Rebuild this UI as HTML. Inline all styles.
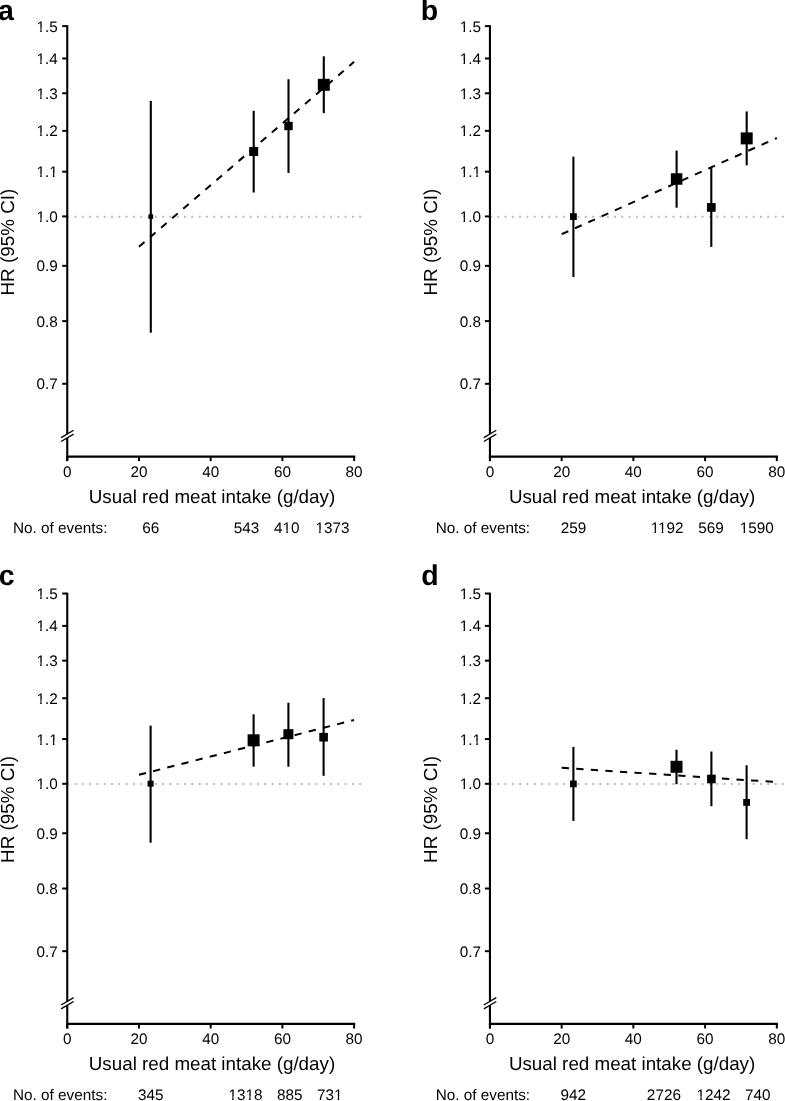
<!DOCTYPE html><html><head><meta charset="utf-8"><style>html,body{margin:0;padding:0;background:#fff;overflow:hidden}svg{display:block;will-change:transform}</style></head><body>
<svg width="785" height="1101" viewBox="0 0 785 1101" text-rendering="geometricPrecision">
<rect width="785" height="1101" fill="#fff"/>
<g transform="translate(0,0)">
<text x="-2" y="20.1" font-size="28.5" font-weight="bold" font-family="Liberation Sans">a</text>
<line x1="67.2" y1="216.7" x2="361.5" y2="216.7" stroke="#bcbcbc" stroke-width="2" stroke-dasharray="2 5.3"/>
<line x1="67.25" y1="25.3" x2="67.25" y2="434" stroke="#000" stroke-width="2.1"/>
<line x1="67.25" y1="437.9" x2="67.25" y2="461.1" stroke="#000" stroke-width="2.1"/>
<line x1="61.1" y1="437.6" x2="73.6" y2="430.2" stroke="#000" stroke-width="1.3"/>
<line x1="61.1" y1="441.5" x2="73.6" y2="434.1" stroke="#000" stroke-width="1.3"/>
<line x1="62.2" y1="383.79" x2="67.25" y2="383.79" stroke="#000" stroke-width="2"/>
<text id="a-y-0.7" x="57.7" y="389.39" font-size="15.3" text-anchor="end" font-family="Liberation Sans">0.7</text>
<line x1="62.2" y1="321.12" x2="67.25" y2="321.12" stroke="#000" stroke-width="2"/>
<text id="a-y-0.8" x="57.7" y="326.72" font-size="15.3" text-anchor="end" font-family="Liberation Sans">0.8</text>
<line x1="62.2" y1="265.85" x2="67.25" y2="265.85" stroke="#000" stroke-width="2"/>
<text id="a-y-0.9" x="57.7" y="271.45" font-size="15.3" text-anchor="end" font-family="Liberation Sans">0.9</text>
<line x1="62.2" y1="216.40" x2="67.25" y2="216.40" stroke="#000" stroke-width="2"/>
<text id="a-y-1.0" x="57.7" y="222.00" font-size="15.3" text-anchor="end" font-family="Liberation Sans">1.0</text>
<line x1="62.2" y1="171.67" x2="67.25" y2="171.67" stroke="#000" stroke-width="2"/>
<text id="a-y-1.1" x="57.7" y="177.27" font-size="15.3" text-anchor="end" font-family="Liberation Sans">1.1</text>
<line x1="62.2" y1="130.84" x2="67.25" y2="130.84" stroke="#000" stroke-width="2"/>
<text id="a-y-1.2" x="57.7" y="136.44" font-size="15.3" text-anchor="end" font-family="Liberation Sans">1.2</text>
<line x1="62.2" y1="93.27" x2="67.25" y2="93.27" stroke="#000" stroke-width="2"/>
<text id="a-y-1.3" x="57.7" y="98.87" font-size="15.3" text-anchor="end" font-family="Liberation Sans">1.3</text>
<line x1="62.2" y1="58.49" x2="67.25" y2="58.49" stroke="#000" stroke-width="2"/>
<text id="a-y-1.4" x="57.7" y="64.09" font-size="15.3" text-anchor="end" font-family="Liberation Sans">1.4</text>
<line x1="62.2" y1="26.12" x2="67.25" y2="26.12" stroke="#000" stroke-width="2"/>
<text id="a-y-1.5" x="57.7" y="31.72" font-size="15.3" text-anchor="end" font-family="Liberation Sans">1.5</text>
<line x1="66.2" y1="456.55" x2="355.2" y2="456.55" stroke="#000" stroke-width="2.3"/>
<line x1="67.25" y1="456.5" x2="67.25" y2="461.1" stroke="#000" stroke-width="2"/>
<text x="67.25" y="477" font-size="15.3" text-anchor="middle" font-family="Liberation Sans">0</text>
<line x1="138.96" y1="456.5" x2="138.96" y2="461.1" stroke="#000" stroke-width="2"/>
<text x="138.96" y="477" font-size="15.3" text-anchor="middle" font-family="Liberation Sans">20</text>
<line x1="210.67" y1="456.5" x2="210.67" y2="461.1" stroke="#000" stroke-width="2"/>
<text x="210.67" y="477" font-size="15.3" text-anchor="middle" font-family="Liberation Sans">40</text>
<line x1="282.39" y1="456.5" x2="282.39" y2="461.1" stroke="#000" stroke-width="2"/>
<text x="282.39" y="477" font-size="15.3" text-anchor="middle" font-family="Liberation Sans">60</text>
<line x1="354.10" y1="456.5" x2="354.10" y2="461.1" stroke="#000" stroke-width="2"/>
<text x="354.10" y="477" font-size="15.3" text-anchor="middle" font-family="Liberation Sans">80</text>
<text x="88.8" y="502.8" font-size="18.8" font-family="Liberation Sans">Usual red meat intake (g/day)</text>
<text transform="translate(13.9,242.1) rotate(-90)" x="0" y="0" font-size="18.85" text-anchor="middle" font-family="Liberation Sans">HR (95% CI)</text>
<text x="13" y="533.4" font-size="15.3" font-family="Liberation Sans">No. of events:</text>
<text id="a-e-66" x="150.65" y="533.4" font-size="15.3" text-anchor="middle" font-family="Liberation Sans">66</text>
<text id="a-e-543" x="246.6" y="533.4" font-size="15.3" text-anchor="middle" font-family="Liberation Sans">543</text>
<text id="a-e-410" x="286.85" y="533.4" font-size="15.3" text-anchor="middle" font-family="Liberation Sans">410</text>
<text id="a-e-1373" x="332.4" y="533.4" font-size="15.3" text-anchor="middle" font-family="Liberation Sans">1373</text>
<line x1="138.96" y1="246.8" x2="354.1" y2="61.8" stroke="#000" stroke-width="2.0" stroke-dasharray="7.3 7.3"/>
<line x1="150.8" y1="100.9" x2="150.8" y2="332.7" stroke="#000" stroke-width="2.1"/>
<rect x="148.50" y="214.30" width="4.6" height="4.6" fill="#000"/>
<line x1="253.7" y1="110.8" x2="253.7" y2="192.5" stroke="#000" stroke-width="2.1"/>
<rect x="249.20" y="147.00" width="9.0" height="9.0" fill="#000"/>
<line x1="288.5" y1="79.2" x2="288.5" y2="172.9" stroke="#000" stroke-width="2.1"/>
<rect x="284.30" y="121.80" width="8.4" height="8.4" fill="#000"/>
<line x1="323.8" y1="56.3" x2="323.8" y2="113.1" stroke="#000" stroke-width="2.1"/>
<rect x="317.80" y="78.80" width="12.0" height="12.0" fill="#000"/>
<rect x="36.89" y="218.18" width="3.29" height="5.33" fill="#fff"/>
<rect x="41.71" y="218.18" width="3.06" height="5.33" fill="#fff"/>
<rect x="36.89" y="173.45" width="3.29" height="5.33" fill="#fff"/>
<rect x="41.71" y="173.45" width="3.06" height="5.33" fill="#fff"/>
<rect x="49.64" y="173.45" width="3.29" height="5.33" fill="#fff"/>
<rect x="54.46" y="173.45" width="3.06" height="5.33" fill="#fff"/>
<rect x="36.89" y="132.61" width="3.29" height="5.33" fill="#fff"/>
<rect x="41.71" y="132.61" width="3.06" height="5.33" fill="#fff"/>
<rect x="36.89" y="95.05" width="3.29" height="5.33" fill="#fff"/>
<rect x="41.71" y="95.05" width="3.06" height="5.33" fill="#fff"/>
<rect x="36.89" y="60.27" width="3.29" height="5.33" fill="#fff"/>
<rect x="41.71" y="60.27" width="3.06" height="5.33" fill="#fff"/>
<rect x="36.89" y="27.89" width="3.29" height="5.33" fill="#fff"/>
<rect x="41.71" y="27.89" width="3.06" height="5.33" fill="#fff"/>
<rect x="283.04" y="529.57" width="3.29" height="5.33" fill="#fff"/>
<rect x="287.86" y="529.57" width="3.06" height="5.33" fill="#fff"/>
<rect x="315.84" y="529.57" width="3.29" height="5.33" fill="#fff"/>
<rect x="320.66" y="529.57" width="3.06" height="5.33" fill="#fff"/>
</g>
<g transform="translate(422.7,0)">
<text x="-2" y="20.1" font-size="28.5" font-weight="bold" font-family="Liberation Sans">b</text>
<line x1="67.2" y1="216.7" x2="361.5" y2="216.7" stroke="#bcbcbc" stroke-width="2" stroke-dasharray="2 5.3"/>
<line x1="67.25" y1="25.3" x2="67.25" y2="434" stroke="#000" stroke-width="2.1"/>
<line x1="67.25" y1="437.9" x2="67.25" y2="461.1" stroke="#000" stroke-width="2.1"/>
<line x1="61.1" y1="437.6" x2="73.6" y2="430.2" stroke="#000" stroke-width="1.3"/>
<line x1="61.1" y1="441.5" x2="73.6" y2="434.1" stroke="#000" stroke-width="1.3"/>
<line x1="62.2" y1="383.79" x2="67.25" y2="383.79" stroke="#000" stroke-width="2"/>
<text id="b-y-0.7" x="58.3" y="389.39" font-size="15.3" text-anchor="end" font-family="Liberation Sans">0.7</text>
<line x1="62.2" y1="321.12" x2="67.25" y2="321.12" stroke="#000" stroke-width="2"/>
<text id="b-y-0.8" x="58.3" y="326.72" font-size="15.3" text-anchor="end" font-family="Liberation Sans">0.8</text>
<line x1="62.2" y1="265.85" x2="67.25" y2="265.85" stroke="#000" stroke-width="2"/>
<text id="b-y-0.9" x="58.3" y="271.45" font-size="15.3" text-anchor="end" font-family="Liberation Sans">0.9</text>
<line x1="62.2" y1="216.40" x2="67.25" y2="216.40" stroke="#000" stroke-width="2"/>
<text id="b-y-1.0" x="58.3" y="222.00" font-size="15.3" text-anchor="end" font-family="Liberation Sans">1.0</text>
<line x1="62.2" y1="171.67" x2="67.25" y2="171.67" stroke="#000" stroke-width="2"/>
<text id="b-y-1.1" x="58.3" y="177.27" font-size="15.3" text-anchor="end" font-family="Liberation Sans">1.1</text>
<line x1="62.2" y1="130.84" x2="67.25" y2="130.84" stroke="#000" stroke-width="2"/>
<text id="b-y-1.2" x="58.3" y="136.44" font-size="15.3" text-anchor="end" font-family="Liberation Sans">1.2</text>
<line x1="62.2" y1="93.27" x2="67.25" y2="93.27" stroke="#000" stroke-width="2"/>
<text id="b-y-1.3" x="58.3" y="98.87" font-size="15.3" text-anchor="end" font-family="Liberation Sans">1.3</text>
<line x1="62.2" y1="58.49" x2="67.25" y2="58.49" stroke="#000" stroke-width="2"/>
<text id="b-y-1.4" x="58.3" y="64.09" font-size="15.3" text-anchor="end" font-family="Liberation Sans">1.4</text>
<line x1="62.2" y1="26.12" x2="67.25" y2="26.12" stroke="#000" stroke-width="2"/>
<text id="b-y-1.5" x="58.3" y="31.72" font-size="15.3" text-anchor="end" font-family="Liberation Sans">1.5</text>
<line x1="66.2" y1="456.55" x2="355.2" y2="456.55" stroke="#000" stroke-width="2.3"/>
<line x1="67.25" y1="456.5" x2="67.25" y2="461.1" stroke="#000" stroke-width="2"/>
<text x="67.25" y="477" font-size="15.3" text-anchor="middle" font-family="Liberation Sans">0</text>
<line x1="138.96" y1="456.5" x2="138.96" y2="461.1" stroke="#000" stroke-width="2"/>
<text x="138.96" y="477" font-size="15.3" text-anchor="middle" font-family="Liberation Sans">20</text>
<line x1="210.67" y1="456.5" x2="210.67" y2="461.1" stroke="#000" stroke-width="2"/>
<text x="210.67" y="477" font-size="15.3" text-anchor="middle" font-family="Liberation Sans">40</text>
<line x1="282.39" y1="456.5" x2="282.39" y2="461.1" stroke="#000" stroke-width="2"/>
<text x="282.39" y="477" font-size="15.3" text-anchor="middle" font-family="Liberation Sans">60</text>
<line x1="354.10" y1="456.5" x2="354.10" y2="461.1" stroke="#000" stroke-width="2"/>
<text x="354.10" y="477" font-size="15.3" text-anchor="middle" font-family="Liberation Sans">80</text>
<text x="86.2" y="502.8" font-size="18.8" font-family="Liberation Sans">Usual red meat intake (g/day)</text>
<text transform="translate(13.9,242.1) rotate(-90)" x="0" y="0" font-size="18.85" text-anchor="middle" font-family="Liberation Sans">HR (95% CI)</text>
<text x="13" y="533.4" font-size="15.3" font-family="Liberation Sans">No. of events:</text>
<text id="b-e-259" x="150.8" y="533.4" font-size="15.3" text-anchor="middle" font-family="Liberation Sans">259</text>
<text id="b-e-1192" x="244.4" y="533.4" font-size="15.3" text-anchor="middle" font-family="Liberation Sans">1192</text>
<text id="b-e-569" x="288.3" y="533.4" font-size="15.3" text-anchor="middle" font-family="Liberation Sans">569</text>
<text id="b-e-1590" x="334.1" y="533.4" font-size="15.3" text-anchor="middle" font-family="Liberation Sans">1590</text>
<line x1="138.96" y1="234.2" x2="354.1" y2="138.0" stroke="#000" stroke-width="2.0" stroke-dasharray="7.3 7.3"/>
<line x1="150.7" y1="156.6" x2="150.7" y2="277.0" stroke="#000" stroke-width="2.1"/>
<rect x="147.30" y="213.20" width="6.8" height="6.8" fill="#000"/>
<line x1="253.9" y1="150.6" x2="253.9" y2="207.7" stroke="#000" stroke-width="2.1"/>
<rect x="248.15" y="173.25" width="11.5" height="11.5" fill="#000"/>
<line x1="288.6" y1="168.1" x2="288.6" y2="246.9" stroke="#000" stroke-width="2.1"/>
<rect x="284.25" y="203.05" width="8.7" height="8.7" fill="#000"/>
<line x1="324.0" y1="111.4" x2="324.0" y2="165.3" stroke="#000" stroke-width="2.1"/>
<rect x="318.00" y="132.40" width="12.0" height="12.0" fill="#000"/>
<rect x="37.49" y="218.18" width="3.29" height="5.33" fill="#fff"/>
<rect x="42.31" y="218.18" width="3.06" height="5.33" fill="#fff"/>
<rect x="37.49" y="173.45" width="3.29" height="5.33" fill="#fff"/>
<rect x="42.31" y="173.45" width="3.06" height="5.33" fill="#fff"/>
<rect x="50.24" y="173.45" width="3.29" height="5.33" fill="#fff"/>
<rect x="55.06" y="173.45" width="3.06" height="5.33" fill="#fff"/>
<rect x="37.49" y="132.61" width="3.29" height="5.33" fill="#fff"/>
<rect x="42.31" y="132.61" width="3.06" height="5.33" fill="#fff"/>
<rect x="37.49" y="95.05" width="3.29" height="5.33" fill="#fff"/>
<rect x="42.31" y="95.05" width="3.06" height="5.33" fill="#fff"/>
<rect x="37.49" y="60.27" width="3.29" height="5.33" fill="#fff"/>
<rect x="42.31" y="60.27" width="3.06" height="5.33" fill="#fff"/>
<rect x="37.49" y="27.89" width="3.29" height="5.33" fill="#fff"/>
<rect x="42.31" y="27.89" width="3.06" height="5.33" fill="#fff"/>
<rect x="228.41" y="529.57" width="3.29" height="5.33" fill="#fff"/>
<rect x="233.23" y="529.57" width="3.06" height="5.33" fill="#fff"/>
<rect x="235.77" y="529.57" width="3.29" height="5.33" fill="#fff"/>
<rect x="240.58" y="529.57" width="3.06" height="5.33" fill="#fff"/>
<rect x="317.54" y="529.57" width="3.29" height="5.33" fill="#fff"/>
<rect x="322.36" y="529.57" width="3.06" height="5.33" fill="#fff"/>
</g>
<g transform="translate(0,567.4)">
<text x="-1.3" y="18.0" font-size="28.5" font-weight="bold" font-family="Liberation Sans">c</text>
<line x1="67.2" y1="216.7" x2="361.5" y2="216.7" stroke="#bcbcbc" stroke-width="2" stroke-dasharray="2 5.3"/>
<line x1="67.25" y1="25.3" x2="67.25" y2="434" stroke="#000" stroke-width="2.1"/>
<line x1="67.25" y1="437.9" x2="67.25" y2="461.1" stroke="#000" stroke-width="2.1"/>
<line x1="61.1" y1="437.6" x2="73.6" y2="430.2" stroke="#000" stroke-width="1.3"/>
<line x1="61.1" y1="441.5" x2="73.6" y2="434.1" stroke="#000" stroke-width="1.3"/>
<line x1="62.2" y1="383.79" x2="67.25" y2="383.79" stroke="#000" stroke-width="2"/>
<text id="c-y-0.7" x="57.7" y="389.39" font-size="15.3" text-anchor="end" font-family="Liberation Sans">0.7</text>
<line x1="62.2" y1="321.12" x2="67.25" y2="321.12" stroke="#000" stroke-width="2"/>
<text id="c-y-0.8" x="57.7" y="326.72" font-size="15.3" text-anchor="end" font-family="Liberation Sans">0.8</text>
<line x1="62.2" y1="265.85" x2="67.25" y2="265.85" stroke="#000" stroke-width="2"/>
<text id="c-y-0.9" x="57.7" y="271.45" font-size="15.3" text-anchor="end" font-family="Liberation Sans">0.9</text>
<line x1="62.2" y1="216.40" x2="67.25" y2="216.40" stroke="#000" stroke-width="2"/>
<text id="c-y-1.0" x="57.7" y="222.00" font-size="15.3" text-anchor="end" font-family="Liberation Sans">1.0</text>
<line x1="62.2" y1="171.67" x2="67.25" y2="171.67" stroke="#000" stroke-width="2"/>
<text id="c-y-1.1" x="57.7" y="177.27" font-size="15.3" text-anchor="end" font-family="Liberation Sans">1.1</text>
<line x1="62.2" y1="130.84" x2="67.25" y2="130.84" stroke="#000" stroke-width="2"/>
<text id="c-y-1.2" x="57.7" y="136.44" font-size="15.3" text-anchor="end" font-family="Liberation Sans">1.2</text>
<line x1="62.2" y1="93.27" x2="67.25" y2="93.27" stroke="#000" stroke-width="2"/>
<text id="c-y-1.3" x="57.7" y="98.87" font-size="15.3" text-anchor="end" font-family="Liberation Sans">1.3</text>
<line x1="62.2" y1="58.49" x2="67.25" y2="58.49" stroke="#000" stroke-width="2"/>
<text id="c-y-1.4" x="57.7" y="64.09" font-size="15.3" text-anchor="end" font-family="Liberation Sans">1.4</text>
<line x1="62.2" y1="26.12" x2="67.25" y2="26.12" stroke="#000" stroke-width="2"/>
<text id="c-y-1.5" x="57.7" y="31.72" font-size="15.3" text-anchor="end" font-family="Liberation Sans">1.5</text>
<line x1="66.2" y1="456.55" x2="355.2" y2="456.55" stroke="#000" stroke-width="2.3"/>
<line x1="67.25" y1="456.5" x2="67.25" y2="461.1" stroke="#000" stroke-width="2"/>
<text x="67.25" y="477" font-size="15.3" text-anchor="middle" font-family="Liberation Sans">0</text>
<line x1="138.96" y1="456.5" x2="138.96" y2="461.1" stroke="#000" stroke-width="2"/>
<text x="138.96" y="477" font-size="15.3" text-anchor="middle" font-family="Liberation Sans">20</text>
<line x1="210.67" y1="456.5" x2="210.67" y2="461.1" stroke="#000" stroke-width="2"/>
<text x="210.67" y="477" font-size="15.3" text-anchor="middle" font-family="Liberation Sans">40</text>
<line x1="282.39" y1="456.5" x2="282.39" y2="461.1" stroke="#000" stroke-width="2"/>
<text x="282.39" y="477" font-size="15.3" text-anchor="middle" font-family="Liberation Sans">60</text>
<line x1="354.10" y1="456.5" x2="354.10" y2="461.1" stroke="#000" stroke-width="2"/>
<text x="354.10" y="477" font-size="15.3" text-anchor="middle" font-family="Liberation Sans">80</text>
<text x="88.8" y="502.8" font-size="18.8" font-family="Liberation Sans">Usual red meat intake (g/day)</text>
<text transform="translate(13.9,242.1) rotate(-90)" x="0" y="0" font-size="18.85" text-anchor="middle" font-family="Liberation Sans">HR (95% CI)</text>
<text x="13" y="532.6" font-size="15.3" font-family="Liberation Sans">No. of events:</text>
<text id="c-e-345" x="150.7" y="532.6" font-size="15.3" text-anchor="middle" font-family="Liberation Sans">345</text>
<text id="c-e-1318" x="245.4" y="532.6" font-size="15.3" text-anchor="middle" font-family="Liberation Sans">1318</text>
<text id="c-e-885" x="289.8" y="532.6" font-size="15.3" text-anchor="middle" font-family="Liberation Sans">885</text>
<text id="c-e-731" x="329.7" y="532.6" font-size="15.3" text-anchor="middle" font-family="Liberation Sans">731</text>
<line x1="138.96" y1="207.4" x2="354.1" y2="152.6" stroke="#000" stroke-width="2.0" stroke-dasharray="7.3 7.3"/>
<line x1="150.6" y1="158.2" x2="150.6" y2="275.3" stroke="#000" stroke-width="2.1"/>
<rect x="147.60" y="213.30" width="6.0" height="6.0" fill="#000"/>
<line x1="253.6" y1="146.9" x2="253.6" y2="199.3" stroke="#000" stroke-width="2.1"/>
<rect x="247.60" y="166.90" width="12.0" height="12.0" fill="#000"/>
<line x1="288.4" y1="135.3" x2="288.4" y2="199.3" stroke="#000" stroke-width="2.1"/>
<rect x="283.40" y="161.80" width="10.0" height="10.0" fill="#000"/>
<line x1="323.6" y1="130.7" x2="323.6" y2="208.4" stroke="#000" stroke-width="2.1"/>
<rect x="319.30" y="165.50" width="8.6" height="8.6" fill="#000"/>
<rect x="36.89" y="218.18" width="3.29" height="5.33" fill="#fff"/>
<rect x="41.71" y="218.18" width="3.06" height="5.33" fill="#fff"/>
<rect x="36.89" y="173.45" width="3.29" height="5.33" fill="#fff"/>
<rect x="41.71" y="173.45" width="3.06" height="5.33" fill="#fff"/>
<rect x="49.64" y="173.45" width="3.29" height="5.33" fill="#fff"/>
<rect x="54.46" y="173.45" width="3.06" height="5.33" fill="#fff"/>
<rect x="36.89" y="132.61" width="3.29" height="5.33" fill="#fff"/>
<rect x="41.71" y="132.61" width="3.06" height="5.33" fill="#fff"/>
<rect x="36.89" y="95.05" width="3.29" height="5.33" fill="#fff"/>
<rect x="41.71" y="95.05" width="3.06" height="5.33" fill="#fff"/>
<rect x="36.89" y="60.27" width="3.29" height="5.33" fill="#fff"/>
<rect x="41.71" y="60.27" width="3.06" height="5.33" fill="#fff"/>
<rect x="36.89" y="27.89" width="3.29" height="5.33" fill="#fff"/>
<rect x="41.71" y="27.89" width="3.06" height="5.33" fill="#fff"/>
<rect x="228.84" y="528.77" width="3.29" height="5.33" fill="#fff"/>
<rect x="233.66" y="528.77" width="3.06" height="5.33" fill="#fff"/>
<rect x="245.84" y="528.77" width="3.29" height="5.33" fill="#fff"/>
<rect x="250.66" y="528.77" width="3.06" height="5.33" fill="#fff"/>
<rect x="334.39" y="528.77" width="3.29" height="5.33" fill="#fff"/>
<rect x="339.21" y="528.77" width="3.06" height="5.33" fill="#fff"/>
</g>
<g transform="translate(422.7,567.4)">
<text x="-1.5" y="18.0" font-size="28.5" font-weight="bold" font-family="Liberation Sans">d</text>
<line x1="67.2" y1="216.7" x2="361.5" y2="216.7" stroke="#bcbcbc" stroke-width="2" stroke-dasharray="2 5.3"/>
<line x1="67.25" y1="25.3" x2="67.25" y2="434" stroke="#000" stroke-width="2.1"/>
<line x1="67.25" y1="437.9" x2="67.25" y2="461.1" stroke="#000" stroke-width="2.1"/>
<line x1="61.1" y1="437.6" x2="73.6" y2="430.2" stroke="#000" stroke-width="1.3"/>
<line x1="61.1" y1="441.5" x2="73.6" y2="434.1" stroke="#000" stroke-width="1.3"/>
<line x1="62.2" y1="383.79" x2="67.25" y2="383.79" stroke="#000" stroke-width="2"/>
<text id="d-y-0.7" x="58.3" y="389.39" font-size="15.3" text-anchor="end" font-family="Liberation Sans">0.7</text>
<line x1="62.2" y1="321.12" x2="67.25" y2="321.12" stroke="#000" stroke-width="2"/>
<text id="d-y-0.8" x="58.3" y="326.72" font-size="15.3" text-anchor="end" font-family="Liberation Sans">0.8</text>
<line x1="62.2" y1="265.85" x2="67.25" y2="265.85" stroke="#000" stroke-width="2"/>
<text id="d-y-0.9" x="58.3" y="271.45" font-size="15.3" text-anchor="end" font-family="Liberation Sans">0.9</text>
<line x1="62.2" y1="216.40" x2="67.25" y2="216.40" stroke="#000" stroke-width="2"/>
<text id="d-y-1.0" x="58.3" y="222.00" font-size="15.3" text-anchor="end" font-family="Liberation Sans">1.0</text>
<line x1="62.2" y1="171.67" x2="67.25" y2="171.67" stroke="#000" stroke-width="2"/>
<text id="d-y-1.1" x="58.3" y="177.27" font-size="15.3" text-anchor="end" font-family="Liberation Sans">1.1</text>
<line x1="62.2" y1="130.84" x2="67.25" y2="130.84" stroke="#000" stroke-width="2"/>
<text id="d-y-1.2" x="58.3" y="136.44" font-size="15.3" text-anchor="end" font-family="Liberation Sans">1.2</text>
<line x1="62.2" y1="93.27" x2="67.25" y2="93.27" stroke="#000" stroke-width="2"/>
<text id="d-y-1.3" x="58.3" y="98.87" font-size="15.3" text-anchor="end" font-family="Liberation Sans">1.3</text>
<line x1="62.2" y1="58.49" x2="67.25" y2="58.49" stroke="#000" stroke-width="2"/>
<text id="d-y-1.4" x="58.3" y="64.09" font-size="15.3" text-anchor="end" font-family="Liberation Sans">1.4</text>
<line x1="62.2" y1="26.12" x2="67.25" y2="26.12" stroke="#000" stroke-width="2"/>
<text id="d-y-1.5" x="58.3" y="31.72" font-size="15.3" text-anchor="end" font-family="Liberation Sans">1.5</text>
<line x1="66.2" y1="456.55" x2="355.2" y2="456.55" stroke="#000" stroke-width="2.3"/>
<line x1="67.25" y1="456.5" x2="67.25" y2="461.1" stroke="#000" stroke-width="2"/>
<text x="67.25" y="477" font-size="15.3" text-anchor="middle" font-family="Liberation Sans">0</text>
<line x1="138.96" y1="456.5" x2="138.96" y2="461.1" stroke="#000" stroke-width="2"/>
<text x="138.96" y="477" font-size="15.3" text-anchor="middle" font-family="Liberation Sans">20</text>
<line x1="210.67" y1="456.5" x2="210.67" y2="461.1" stroke="#000" stroke-width="2"/>
<text x="210.67" y="477" font-size="15.3" text-anchor="middle" font-family="Liberation Sans">40</text>
<line x1="282.39" y1="456.5" x2="282.39" y2="461.1" stroke="#000" stroke-width="2"/>
<text x="282.39" y="477" font-size="15.3" text-anchor="middle" font-family="Liberation Sans">60</text>
<line x1="354.10" y1="456.5" x2="354.10" y2="461.1" stroke="#000" stroke-width="2"/>
<text x="354.10" y="477" font-size="15.3" text-anchor="middle" font-family="Liberation Sans">80</text>
<text x="86.2" y="502.8" font-size="18.8" font-family="Liberation Sans">Usual red meat intake (g/day)</text>
<text transform="translate(13.9,242.1) rotate(-90)" x="0" y="0" font-size="18.85" text-anchor="middle" font-family="Liberation Sans">HR (95% CI)</text>
<text x="13" y="532.6" font-size="15.3" font-family="Liberation Sans">No. of events:</text>
<text id="d-e-942" x="150.6" y="532.6" font-size="15.3" text-anchor="middle" font-family="Liberation Sans">942</text>
<text id="d-e-2726" x="241.2" y="532.6" font-size="15.3" text-anchor="middle" font-family="Liberation Sans">2726</text>
<text id="d-e-1242" x="290.9" y="532.6" font-size="15.3" text-anchor="middle" font-family="Liberation Sans">1242</text>
<text id="d-e-740" x="335.0" y="532.6" font-size="15.3" text-anchor="middle" font-family="Liberation Sans">740</text>
<line x1="138.96" y1="200.4" x2="354.1" y2="214.7" stroke="#000" stroke-width="2.0" stroke-dasharray="7.3 7.3"/>
<line x1="150.7" y1="179.5" x2="150.7" y2="253.5" stroke="#000" stroke-width="2.1"/>
<rect x="147.35" y="213.15" width="6.7" height="6.7" fill="#000"/>
<line x1="253.8" y1="182.3" x2="253.8" y2="216.8" stroke="#000" stroke-width="2.1"/>
<rect x="247.80" y="193.40" width="12.0" height="12.0" fill="#000"/>
<line x1="288.7" y1="184.1" x2="288.7" y2="238.8" stroke="#000" stroke-width="2.1"/>
<rect x="284.40" y="207.30" width="8.6" height="8.6" fill="#000"/>
<line x1="323.9" y1="197.8" x2="323.9" y2="271.8" stroke="#000" stroke-width="2.1"/>
<rect x="320.50" y="231.60" width="6.8" height="6.8" fill="#000"/>
<rect x="37.49" y="218.18" width="3.29" height="5.33" fill="#fff"/>
<rect x="42.31" y="218.18" width="3.06" height="5.33" fill="#fff"/>
<rect x="37.49" y="173.45" width="3.29" height="5.33" fill="#fff"/>
<rect x="42.31" y="173.45" width="3.06" height="5.33" fill="#fff"/>
<rect x="50.24" y="173.45" width="3.29" height="5.33" fill="#fff"/>
<rect x="55.06" y="173.45" width="3.06" height="5.33" fill="#fff"/>
<rect x="37.49" y="132.61" width="3.29" height="5.33" fill="#fff"/>
<rect x="42.31" y="132.61" width="3.06" height="5.33" fill="#fff"/>
<rect x="37.49" y="95.05" width="3.29" height="5.33" fill="#fff"/>
<rect x="42.31" y="95.05" width="3.06" height="5.33" fill="#fff"/>
<rect x="37.49" y="60.27" width="3.29" height="5.33" fill="#fff"/>
<rect x="42.31" y="60.27" width="3.06" height="5.33" fill="#fff"/>
<rect x="37.49" y="27.89" width="3.29" height="5.33" fill="#fff"/>
<rect x="42.31" y="27.89" width="3.06" height="5.33" fill="#fff"/>
<rect x="274.34" y="528.77" width="3.29" height="5.33" fill="#fff"/>
<rect x="279.16" y="528.77" width="3.06" height="5.33" fill="#fff"/>
</g>
</svg></body></html>
